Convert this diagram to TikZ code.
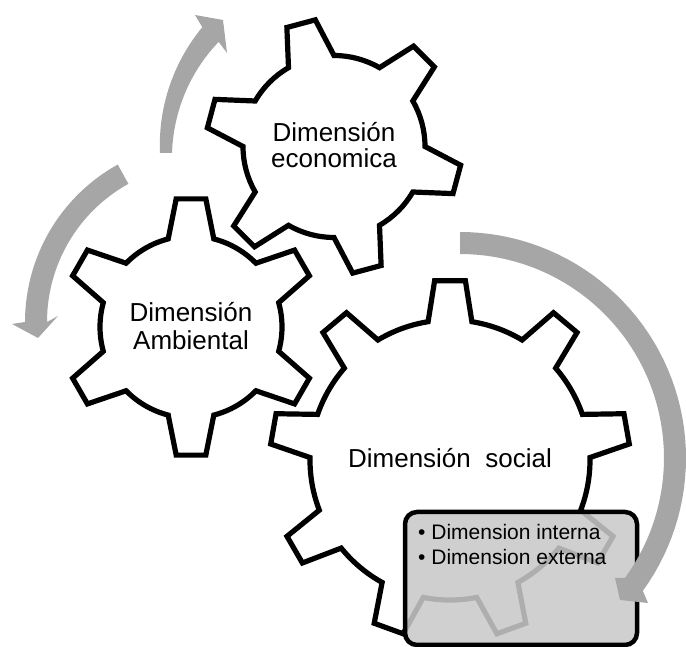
\documentclass[tikz,border=0pt]{standalone}
\usepackage{fontspec}
\setmainfont{Liberation Sans}
\definecolor{arrowgray}{RGB}{166,166,166}
\definecolor{panelgray}{RGB}{201,201,201}
\newcommand{\drawgear}[8]{%
  \begin{scope}[shift={(#1,#2)}]
    \pgfmathsetmacro{\gstep}{360/#3}
    \pgfmathtruncatemacro{\glast}{#3-1}
    \draw[gearline] ({#4-#7}:#5pt) \foreach \k in {0,...,\glast}{
      -- ({#4+\gstep*\k-#8}:#6pt) -- ({#4+\gstep*\k+#8}:#6pt) -- ({#4+\gstep*\k+#7}:#5pt)
      arc[start angle={#4+\gstep*\k+#7}, end angle={#4+\gstep*(\k+1)-#7}, radius=#5pt]
    } -- cycle;
  \end{scope}}
\begin{document}
\begin{tikzpicture}[x=1pt,y=1pt,
  gearline/.style={draw=black, line width=5.2pt, fill=white},
  arrowshape/.style={fill=arrowgray, draw=none},
  panel/.style={draw=black, line width=4.5pt, rounded corners=12pt, fill=panelgray, fill opacity=0.87},
  lbl/.style={font=\fontsize{26}{28}\selectfont, inner sep=0pt, anchor=base},
  panellbl/.style={font=\fontsize{21}{25}\selectfont, inner sep=0pt, anchor=base west}]
\useasboundingbox (0,0) rectangle (686,647);
% gears
\drawgear{334}{500.5}{6}{45}{91}{128}{15}{6.6}
\drawgear{191}{320}{6}{30}{91}{129}{14.5}{6.6}
\drawgear{450}{187}{9}{90}{140}{180}{9}{4.9}
% gear labels
\node[lbl] (eco1) at (334,505) {Dimensión};
\node[lbl] (eco2) at (334,479) {economica};
\node[lbl] (amb1) at (191,325) {Dimensión};
\node[lbl] (amb2) at (191,297) {Ambiental};
\node[lbl] (soc) at (450,179) {Dimensión\hspace{0.28em} social};
% panel
\draw[panel] (405,2) rectangle (637,135);
\node[panellbl] (int) at (418,107) {• Dimension interna};
\node[panellbl] (ext) at (418,82) {• Dimension externa};
% arrow 1 (upwards, tapered)
\fill[arrowshape] plot[domain=180:138, samples=30, variable=\t]
   ({342+(182+6*(180-\t)/42)*cos(\t)}, {494+(182+6*(180-\t)/42)*sin(\t)})
   -- (195,632) -- (223,627) -- (227,594)
   -- plot[domain=138:180, samples=30, variable=\t]
   ({342+(170-4*(180-\t)/42)*cos(\t)}, {494+(170-4*(180-\t)/42)*sin(\t)}) -- cycle;
% arrow 2 (left, downwards)
\fill[arrowshape] plot[domain=119:180, samples=30, variable=\t]
   ({205+180*cos(\t)}, {325+180*sin(\t)})
   -- (12,323) -- (38,309) -- (58,331)
   -- plot[domain=180:119, samples=30, variable=\t]
   ({205+158*cos(\t)}, {325+158*sin(\t)}) -- cycle;
% arrow 3 (right, big)
\fill[arrowshape] plot[domain=90:-36, samples=50, variable=\t]
   ({460+226*cos(\t)}, {189+226*sin(\t)})
   -- (648,44) -- (620,47) -- (615,69)
   -- plot[domain=-36:90, samples=50, variable=\t]
   ({460+204*cos(\t)}, {189+204*sin(\t)}) -- cycle;
\end{tikzpicture}
\end{document}
